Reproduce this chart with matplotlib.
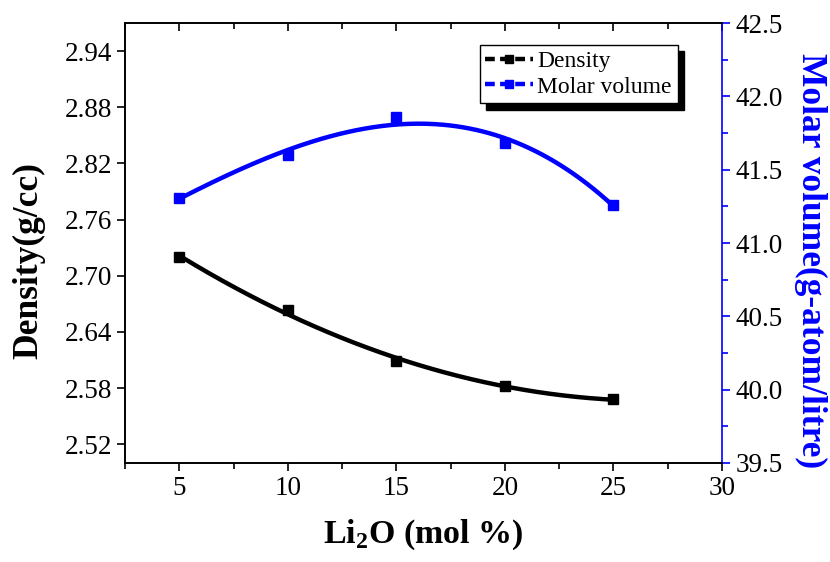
import numpy as np
import matplotlib
matplotlib.use('Agg')
import matplotlib.pyplot as plt
from matplotlib.ticker import MultipleLocator
from matplotlib.lines import Line2D

plt.rcParams['font.family'] = ['Liberation Serif', 'DejaVu Serif']

# Data
li2o = [5, 10, 15, 20, 25]
density = [2.720, 2.663, 2.609, 2.582, 2.568]
molar_volume = [41.31, 41.60, 41.86, 41.68, 41.26]

fig = plt.figure(figsize=(8.3, 5.62), dpi=100)
ax = fig.add_axes([0.1506, 0.1762, 0.7193, 0.7828])
ax2 = ax.twinx()

# smooth fitted curves through the points
xs = np.linspace(5, 25, 200)
d_fit = np.polyval(np.polyfit(li2o, density, 2), xs)
m_fit = np.polyval(np.polyfit(li2o, molar_volume, 3), xs)

ax.plot(xs, d_fit, color='black', lw=3.2, solid_capstyle='butt')
ax.plot(li2o, density, 's', color='black', ms=7)
ax2.plot(xs, m_fit, color='blue', lw=3.2, solid_capstyle='butt')
ax2.plot(li2o, molar_volume, 's', color='blue', ms=7)

ax.set_xlim(2.5, 30)
ax.set_ylim(2.50, 2.97)
ax2.set_ylim(39.5, 42.5)

ax.xaxis.set_minor_locator(MultipleLocator(2.5))
ax.set_xticks([5, 10, 15, 20, 25, 30])
ax.set_yticks([2.52, 2.58, 2.64, 2.70, 2.76, 2.82, 2.88, 2.94])
ax.set_yticklabels(['2.52', '2.58', '2.64', '2.70', '2.76', '2.82', '2.88', '2.94'])
ax2.yaxis.set_minor_locator(MultipleLocator(0.25))
ax2.set_yticks([39.5, 40.0, 40.5, 41.0, 41.5, 42.0, 42.5])
ax2.set_yticklabels(['39.5', '40.0', '40.5', '41.0', '41.5', '42.0', '42.5'])

ax.tick_params(axis='both', which='major', labelsize=19.5, length=6, width=1.2, direction='out')
ax.tick_params(axis='x', which='minor', length=4, width=1.2, direction='out')
ax.tick_params(axis='x', which='both', top=False)
ax2.tick_params(axis='y', which='major', labelsize=19.5, length=6, width=1.2, color='blue')
ax2.tick_params(axis='y', which='minor', length=4, width=1.2, color='blue')

# top ticks point inward, drawn by the twin's x axis
ax2.xaxis.set_visible(True)
ax2.xaxis.set_minor_locator(MultipleLocator(2.5))
ax2.tick_params(axis='x', which='both', bottom=False, labelbottom=False,
                top=True, labeltop=False, direction='in', width=1.2)
ax2.tick_params(axis='x', which='major', length=6)
ax2.tick_params(axis='x', which='minor', length=4)

for s in ['left', 'bottom', 'top']:
    ax.spines[s].set_linewidth(1.2)
    ax2.spines[s].set_linewidth(1.2)
ax2.spines['right'].set_color('blue')
ax2.spines['right'].set_linewidth(1.2)
ax.spines['right'].set_visible(False)

ax.set_xlabel('Li$_{\\mathregular{2}}$O (mol %)', fontsize=24.5, fontweight='bold', labelpad=12)
ax.set_ylabel('Density(g/cc)', fontsize=25.5, fontweight='bold')
ax2.set_ylabel('Molar volume(g-atom/litre)', fontsize=25.5, fontweight='bold',
               color='blue', rotation=270, va='center')
ax.yaxis.set_label_coords(-0.134, 0.46)
ax2.yaxis.set_label_coords(1.148, 0.46)

handles = [
    Line2D([], [], color='black', lw=3.2, ls=(0, (2.2, 1.2)), marker='s', ms=5.5),
    Line2D([], [], color='blue', lw=3.2, ls=(0, (2.2, 1.2)), marker='s', ms=5.5),
]
leg = ax.legend(handles, ['Density', 'Molar volume'], loc='upper right',
                bbox_to_anchor=(0.926, 0.95), fontsize=17, frameon=True,
                fancybox=False, edgecolor='black', handlelength=2.0,
                handletextpad=0.2, borderpad=0.25, labelspacing=0.15,
                borderaxespad=0, shadow={'color': 'black', 'alpha': 1, 'ox': 4.5, 'oy': -4.5})
leg.get_frame().set_linewidth(1.0)

fig.savefig('out.png', dpi=100)
